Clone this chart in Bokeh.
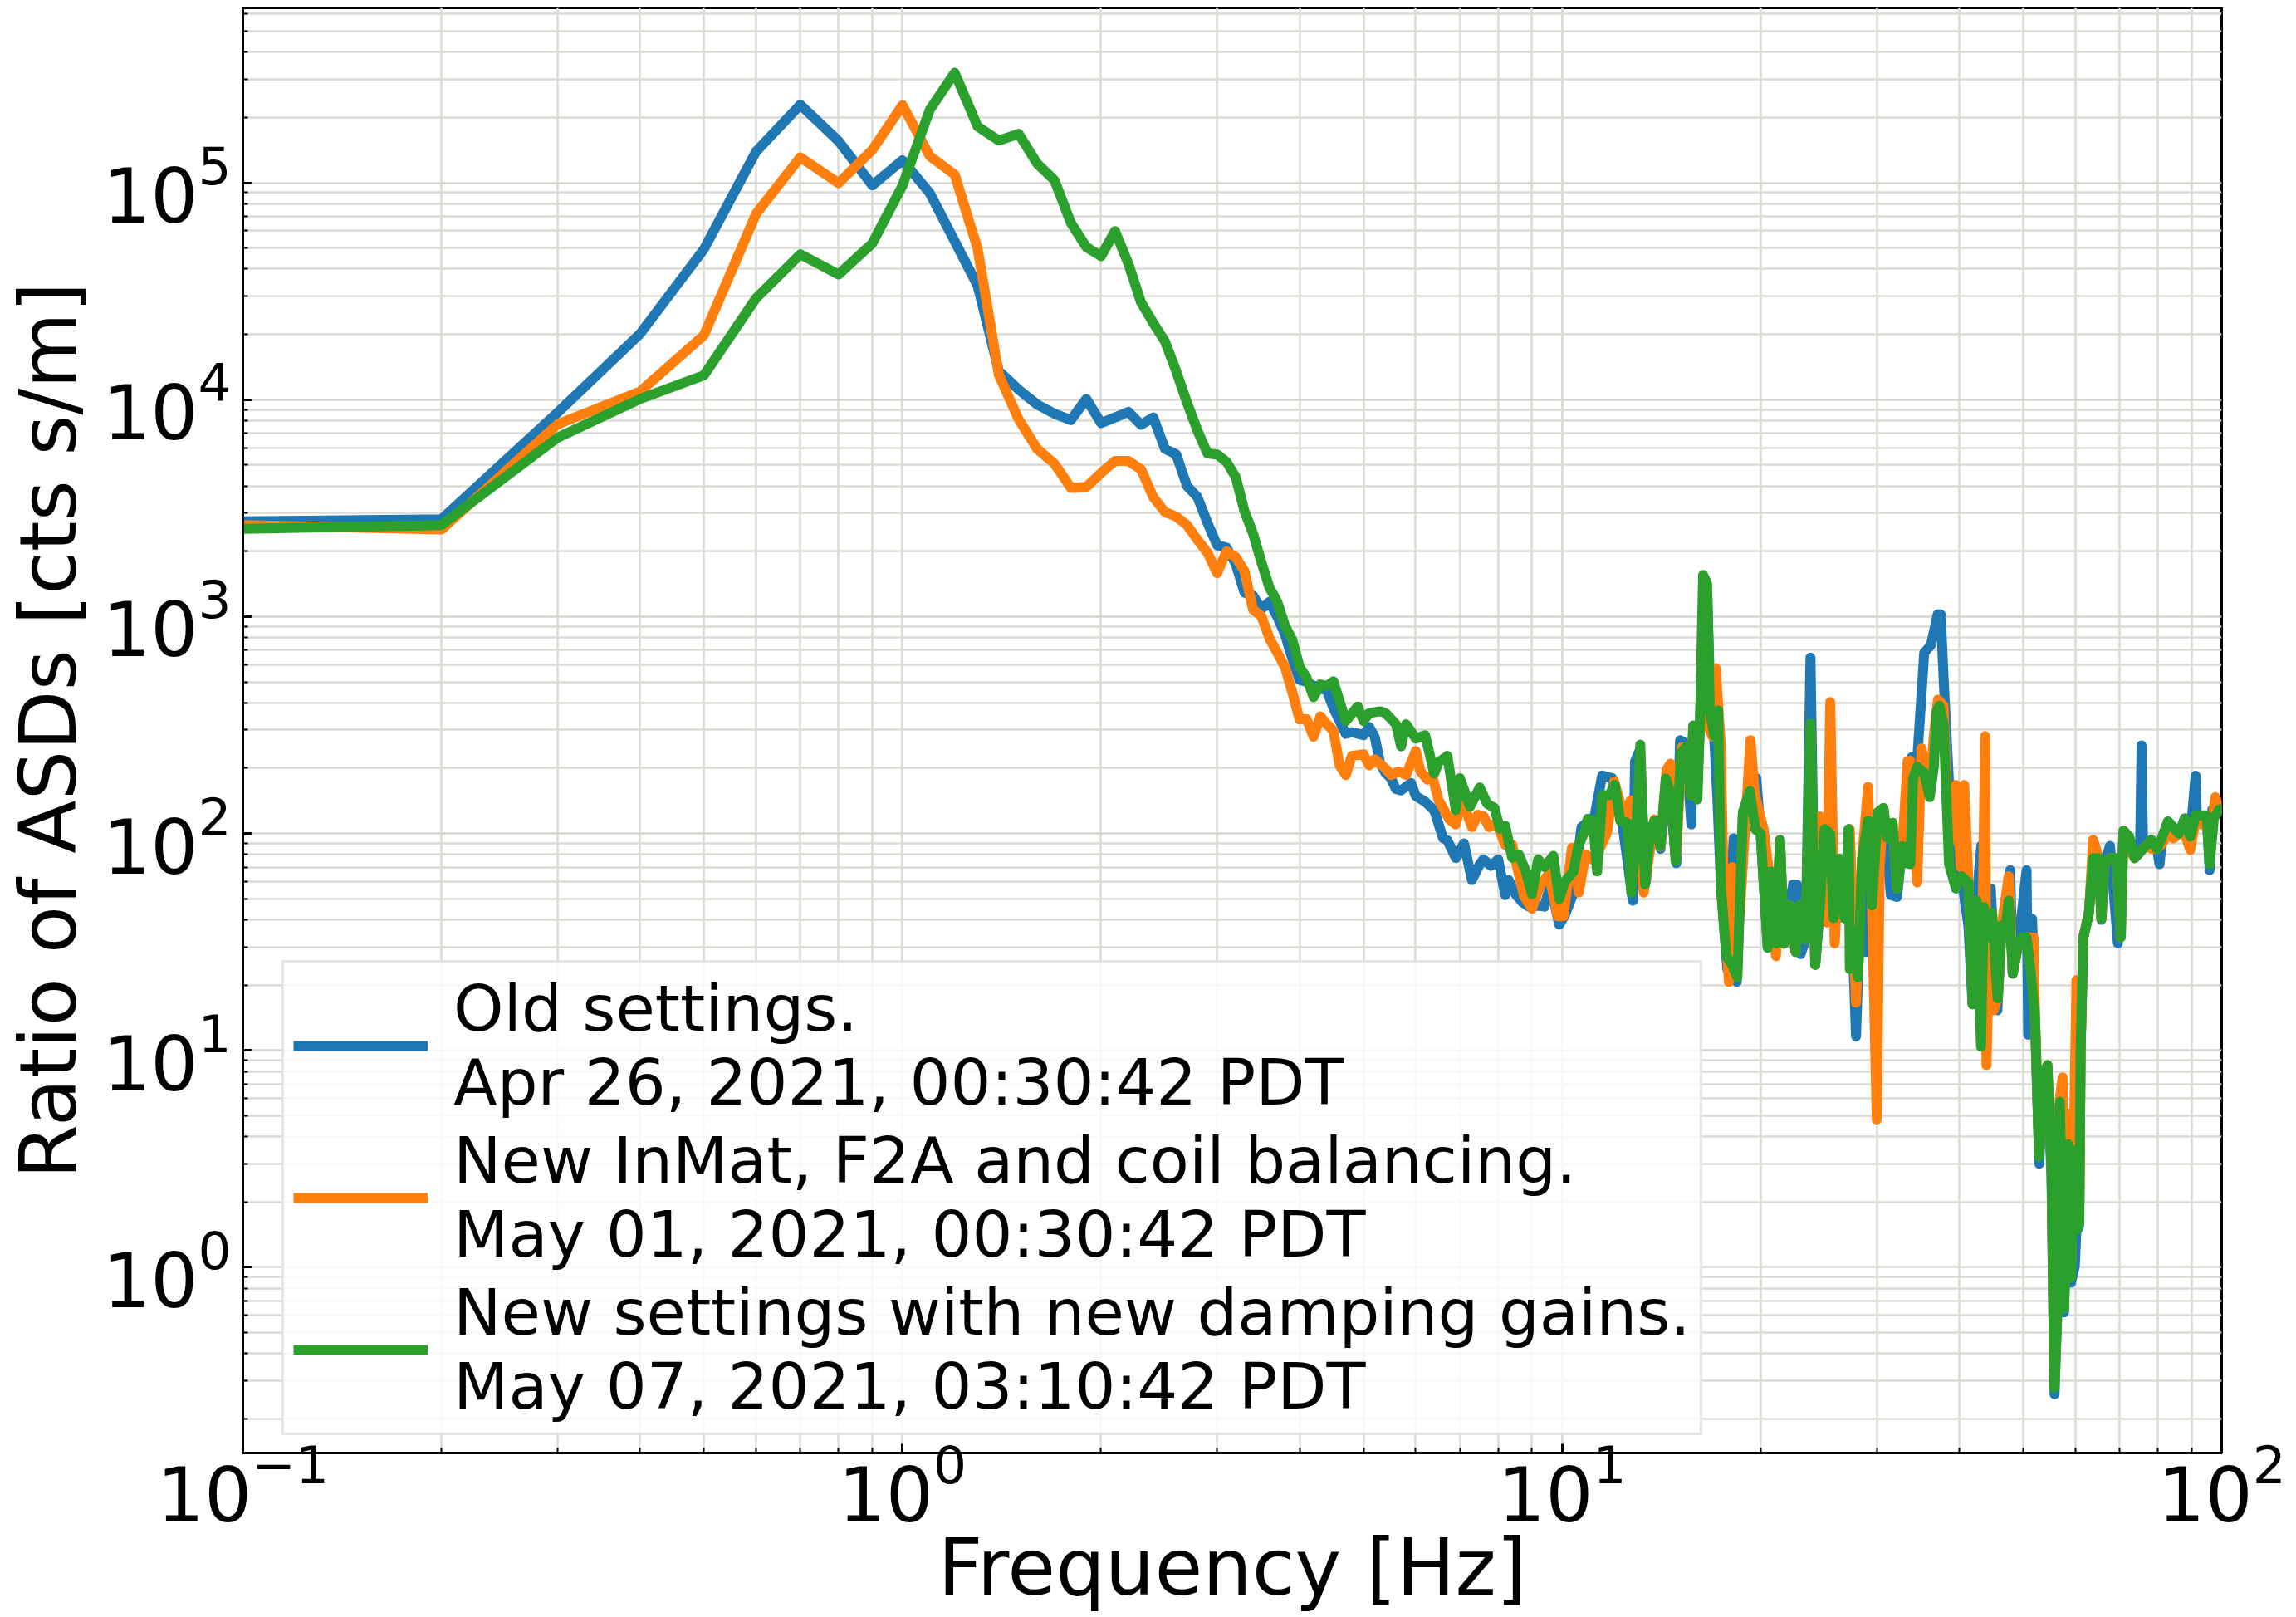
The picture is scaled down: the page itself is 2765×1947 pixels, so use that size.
from bokeh.plotting import figure
from bokeh.models import FixedTicker, Legend, LegendItem
from bokeh.embed import file_html
from bokeh.resources import INLINE

# ---------------- data ----------------
freq_low = [0.1, 0.2, 0.3, 0.4, 0.5, 0.6, 0.7, 0.8, 0.9, 1.0,
            1.1, 1.2, 1.3, 1.4, 1.5, 1.6, 1.7, 1.8, 1.9, 2.0,
            2.1, 2.2, 2.3, 2.4, 2.5, 2.6, 2.7, 2.8, 2.9, 3.0]

old_low = [2750, 2810, 8720, 20100, 49400, 139500, 229000, 155700, 97200, 127000,
           89600, 53700, 33500, 13530, 11120, 9500, 8610, 8050, 10070, 7800,
           8280, 8780, 7660, 8280, 5930, 5590, 4000, 3560, 2700, 2130]

inmat_low = [2640, 2520, 7700, 10900, 19800, 72000, 131000, 99600, 141700, 228000,
             132600, 109000, 49600, 13000, 8120, 5930, 5060, 3920, 3960, 4590,
             5220, 5220, 4770, 3550, 3030, 2890, 2640, 2260, 1970, 1585]

new_low = [2535, 2640, 6680, 10070, 12950, 29370, 46800, 37760, 52560, 97000,
           216900, 321600, 181600, 156500, 168000, 122600, 102700, 65300, 50550, 45850,
           59850, 42350, 28030, 22570, 18540, 13530, 9690, 7210, 5650, 5590]

old_high = [(3.1, 2080), (3.2, 1750), (3.3, 1290), (3.4, 1250), (3.5, 1080), (3.6, 1170), (3.7, 1000),
            (3.8, 830), (3.9, 640), (4.0, 510), (4.1, 500), (4.2, 480), (4.4, 455), (4.5, 380), (4.6, 330),
            (4.7, 288), (4.8, 293), (5.0, 284), (5.1, 309), (5.2, 279), (5.3, 210), (5.4, 190), (5.5, 180),
            (5.6, 160), (5.7, 158), (5.9, 171), (6.0, 149), (6.2, 140), (6.4, 128), (6.6, 95), (6.7, 93),
            (6.9, 77), (7.1, 90), (7.3, 61), (7.5, 72), (7.6, 76), (7.8, 71), (8.0, 76), (8.2, 52), (8.3, 61),
            (8.5, 52.5), (8.7, 48.3), (8.9, 46), (9.2, 46.4), (9.4, 46), (9.6, 58), (9.9, 38), (10.1, 42),
            (10.4, 53), (10.7, 107), (11.2, 120), (11.5, 185), (11.9, 180), (12.3, 120), (12.8, 49),
            (12.9, 215), (13.1, 240), (13.4, 60), (13.6, 100), (13.8, 110), (14.1, 85), (14.4, 175),
            (14.6, 140), (14.9, 73), (15.1, 269), (15.4, 260), (15.7, 110), (15.8, 300), (16.0, 145),
            (16.2, 360), (16.4, 1300), (16.6, 1250), (16.8, 360), (17.0, 280), (17.2, 143), (17.4, 60),
            (17.8, 23.7), (18.2, 95), (18.4, 20.7), (18.8, 125), (19.3, 157), (19.7, 180), (20.0, 100),
            (20.5, 30), (20.7, 67), (21.1, 31), (21.4, 93), (21.7, 31), (22.1, 46.6), (22.4, 58), (22.7, 58),
            (23.0, 27.8), (23.4, 32.5), (23.8, 647), (24.2, 24.8), (24.6, 46.6), (25.0, 104.7), (25.5, 100),
            (25.8, 40.7), (26.3, 76), (26.8, 40.7), (27.2, 104.7), (27.9, 11.6), (28.5, 76), (28.9, 28.4),
            (29.1, 114.5), (29.5, 46.6), (30.1, 125), (30.7, 131), (31.5, 52), (32.2, 51), (32.8, 87),
            (33.3, 73), (33.9, 225), (34.4, 180), (35.4, 680), (36.25, 740), (37.1, 1023), (37.5, 1023),
            (37.9, 502), (39.0, 93.5), (39.55, 55.8), (40.3, 63.5), (41.3, 37.8), (41.9, 16.3), (42.5, 49),
            (43.2, 87.7), (43.6, 45.9), (44.65, 55.8), (45.7, 15.3), (46.4, 37.8), (47.1, 37.8), (47.8, 67.7),
            (48.2, 22.6), (49.2, 31.2), (50.6, 67.7), (50.9, 11.8), (51.6, 40.4), (52.1, 14.35), (52.9, 3.0),
            (53.6, 7.2), (54.4, 8.3), (55.2, 2.6), (55.8, 0.26), (56.3, 0.58), (56.8, 5.6), (57.7, 0.62),
            (58.5, 3.5), (59.1, 0.85), (59.9, 1.02), (60.2, 1.45), (60.8, 1.55), (61.1, 10), (61.7, 33),
            (62.9, 43), (63.8, 77), (65.1, 77), (65.7, 40), (66.4, 72), (67.7, 87.7), (69.6, 31.2), (71.0, 103),
            (72.4, 96.6), (73.8, 77), (75.2, 82), (75.6, 255), (76.0, 85), (78.2, 93.5), (79.8, 84.9),
            (80.5, 72.2), (81.3, 96.6), (82.9, 113.6), (84.5, 106.5), (86.2, 99.8), (87.9, 117.3), (89.6, 96.6),
            (91.3, 184.5), (91.7, 121), (93.1, 121), (94.9, 121), (95.9, 67.7), (96.8, 129), (99.2, 129),
            (100.0, 120)]

inmat_high = [(3.1, 2000), (3.2, 1880), (3.3, 1620), (3.4, 1076), (3.5, 1005), (3.6, 794), (3.7, 682),
              (3.8, 586), (3.9, 447), (4.0, 336), (4.1, 336), (4.2, 279), (4.3, 347), (4.4, 319), (4.5, 298),
              (4.6, 206), (4.7, 186), (4.8, 228), (5.0, 232), (5.1, 206), (5.2, 220), (5.4, 199), (5.5, 186),
              (5.65, 193), (5.8, 186), (6.0, 240), (6.1, 193), (6.25, 177), (6.35, 186), (6.5, 142),
              (6.75, 116), (6.9, 110), (7.05, 144.5), (7.3, 107), (7.45, 122), (7.6, 120), (7.75, 107),
              (7.95, 112), (8.2, 88.6), (8.4, 88.6), (8.75, 51.6), (9.0, 45), (9.25, 57), (9.55, 65.4),
              (9.85, 41.5), (10.05, 41.5), (10.35, 85.7), (10.6, 53.4), (10.85, 80), (11.2, 74.8), (11.7, 101),
              (12.0, 174), (12.4, 120), (12.7, 142), (13.0, 94.8), (13.3, 53.4), (13.8, 116), (14.1, 87),
              (14.4, 196.5), (14.6, 210), (14.9, 79.9), (15.2, 250), (15.4, 250), (15.7, 150), (15.8, 310),
              (16.0, 150), (16.2, 340), (16.5, 337), (16.9, 280), (17.1, 578), (17.4, 257), (17.6, 46.6),
              (17.9, 20.7), (18.1, 69.8), (18.6, 42.6), (19.3, 269), (19.6, 150), (20.2, 104.7), (20.6, 66),
              (21.1, 27.2), (21.4, 93), (21.7, 31), (22.1, 46.6), (22.6, 28.4), (22.9, 46.6), (23.4, 32.5),
              (23.8, 300), (24.2, 24.8), (24.6, 120), (25.0, 104.7), (25.2, 38.9), (25.5, 403.5), (25.9, 31.1),
              (26.3, 76.4), (26.8, 40.7), (27.3, 104.7), (27.9, 16.6), (28.5, 76.4), (29.1, 164), (29.5, 46.6),
              (30.0, 4.8), (30.3, 69.8), (30.7, 131), (31.1, 95.7), (31.7, 112), (32.2, 55.8), (32.8, 87.4),
              (33.4, 215), (33.7, 216.8), (34.55, 59.5), (35.06, 246.8), (35.6, 200), (36.1, 150), (36.6, 280),
              (37.14, 414), (37.87, 388), (38.6, 90), (39.55, 167.4), (40.2, 70), (40.71, 167.4), (41.31, 59.5),
              (41.92, 17), (42.53, 49), (43.16, 12), (43.79, 281), (44.0, 8.55), (44.5, 40), (45.08, 15.3),
              (45.74, 17.4), (46.41, 37.8), (47.54, 63.5), (48.23, 22.6), (49.17, 31.2), (50.62, 33.2),
              (51.86, 33.2), (52.11, 14.35), (52.87, 3.4), (53.64, 7.5), (54.43, 8.55), (55.22, 2.9),
              (55.76, 0.29), (56.3, 0.62), (56.84, 6.0), (57.39, 7.5), (57.67, 0.66), (58.52, 5.1), (59.09, 0.92),
              (59.66, 3.5), (60.24, 21.1), (60.83, 1.6), (61.12, 10.4), (61.71, 33.2), (62.92, 43.1),
              (63.84, 93.5), (65.09, 77), (65.72, 40.4), (66.36, 72), (67.66, 77), (69.31, 77), (70.32, 33.2),
              (71.0, 103), (72.39, 85), (73.8, 77), (75.25, 82), (76.72, 87.7), (78.22, 85), (79.75, 84.9),
              (81.3, 90), (82.9, 100), (84.5, 95), (86.2, 99.8), (87.9, 100), (89.6, 84), (91.3, 115),
              (93.1, 110), (94.9, 121), (95.9, 90), (97.8, 147), (99.2, 129), (100.0, 135)]

new_high = [(3.1, 5160), (3.2, 4400), (3.3, 3060), (3.4, 2416), (3.5, 1784), (3.6, 1362), (3.7, 1170),
            (3.8, 909), (3.9, 780), (4.0, 586), (4.1, 521), (4.2, 425), (4.3, 487), (4.4, 479), (4.5, 503),
            (4.7, 330), (4.9, 385), (5.0, 330), (5.1, 359), (5.3, 366), (5.4, 359), (5.6, 319), (5.7, 252),
            (5.8, 319), (6.0, 274), (6.2, 284), (6.4, 189), (6.5, 213), (6.7, 228), (6.9, 128), (7.0, 180),
            (7.25, 133), (7.5, 163), (7.7, 137), (7.9, 131), (8.05, 105), (8.2, 108.5), (8.4, 77.4), (8.6, 80),
            (8.8, 67.7), (9.0, 52.5), (9.2, 76), (9.4, 70), (9.7, 78.8), (9.9, 49.9), (10.1, 60.1), (10.4, 66.5),
            (10.58, 87.4), (10.79, 100), (10.94, 117), (11.14, 114.5), (11.3, 66.8), (11.51, 150), (11.79, 150),
            (12.02, 168), (12.25, 114.5), (12.55, 112), (12.73, 53.3), (12.92, 87.4), (13.14, 257), (13.36, 58.3),
            (13.62, 104.7), (13.82, 114.5), (14.09, 87.4), (14.36, 179.6), (14.64, 150), (14.86, 74.7),
            (15.14, 235), (15.44, 251.6), (15.66, 150), (15.81, 315), (16.04, 143.4), (16.2, 369), (16.36, 1555),
            (16.59, 1421), (16.75, 369), (17.0, 281.5), (17.24, 369), (17.41, 55.8), (17.75, 27.2), (18.1, 24.8),
            (18.44, 21.7), (18.8, 125.3), (19.26, 157), (19.63, 104.7), (20.0, 100), (20.5, 29.7), (20.7, 66.8),
            (21.1, 31.1), (21.4, 93.5), (21.7, 31.1), (22.1, 46.6), (22.6, 28.4), (22.9, 46.6), (23.4, 32.5),
            (23.8, 322), (24.2, 24.8), (24.6, 46.6), (25.0, 104.7), (25.5, 100), (25.8, 40.7), (26.3, 76.4),
            (26.8, 40.7), (27.2, 104.7), (27.3, 23.7), (27.7, 35.6), (28.1, 21.7), (28.5, 76.4), (29.1, 114.5),
            (29.5, 46.6), (30.1, 125.3), (30.7, 131), (31.1, 95.7), (31.7, 112), (32.2, 55.8), (32.8, 87.4),
            (33.3, 73), (33.72, 72.2), (34.05, 178.6), (34.55, 203), (35.39, 190.5), (36.08, 147), (36.61, 203),
            (36.96, 364), (37.32, 388), (37.87, 320), (38.61, 72.2), (39.55, 55.8), (40.32, 63.5), (41.31, 59.5),
            (41.92, 16.3), (42.53, 49), (43.16, 10.4), (43.58, 45.9), (44.22, 33.2), (44.86, 43.1), (45.74, 17.4),
            (46.41, 37.8), (47.08, 37.8), (47.54, 49), (48.23, 22.6), (49.17, 31.2), (49.89, 33.2), (50.62, 33.2),
            (51.36, 22.6), (52.11, 14.35), (52.87, 3.24), (53.64, 7.5), (54.43, 8.55), (55.22, 2.85),
            (55.76, 0.278), (56.3, 0.604), (56.84, 5.8), (57.67, 0.644), (58.52, 3.69), (59.09, 0.89),
            (59.66, 3.46), (60.24, 1.49), (60.83, 1.59), (61.12, 10.4), (61.71, 33.2), (62.92, 43.1), (63.84, 77),
            (65.09, 77), (65.72, 40.4), (66.36, 72.2), (67.66, 77), (69.31, 77), (70.32, 33.2), (71.0, 103),
            (72.39, 96.6), (73.8, 77), (75.25, 82.2), (76.72, 87.7), (78.22, 93.5), (79.75, 84.9), (81.3, 96.6),
            (82.9, 113.6), (84.5, 106.5), (86.2, 99.8), (87.9, 117.3), (89.6, 96.6), (91.3, 121.2), (93.1, 121.2),
            (94.9, 121.2), (95.9, 72.2), (97.3, 117.3), (99.2, 129.3), (100.0, 125)]

series_labels = [
    "Old settings.\nApr 26, 2021, 00:30:42 PDT",
    "New InMat, F2A and coil balancing.\nMay 01, 2021, 00:30:42 PDT",
    "New settings with new damping gains.\nMay 07, 2021, 03:10:42 PDT",
]
series_colors = ["#1f77b4", "#ff7f0e", "#2ca02c"]

x_major = [0.1, 1, 10, 100]
x_minor = [m * d for d in (0.1, 1, 10) for m in range(2, 10)]
y_major = [1, 10, 100, 1000, 10000, 100000]
y_minor = [m * d for d in (0.1, 1, 10, 100, 1000, 10000, 100000) for m in range(2, 10)]

FONT = "DejaVu Sans"
LW = 12

p = figure(width=2765, height=1947, x_axis_type="log", y_axis_type="log",
           x_range=(0.1, 100), y_range=(10 ** -0.856, 10 ** 5.806),
           output_backend="svg", toolbar_location=None,
           min_border_left=291, min_border_right=90, min_border_top=9, min_border_bottom=198)

p.background_fill_color = "white"
p.border_fill_color = "white"
p.outline_line_color = "black"
p.outline_line_width = 3

series = [(old_low, old_high), (inmat_low, inmat_high), (new_low, new_high)]
renderers = []
for (low, high), col in zip(series, series_colors):
    xs = freq_low + [f for f, _ in high]
    ys = low + [v for _, v in high]
    r = p.line(xs, ys, line_color=col, line_width=LW, line_join="round")
    renderers.append(r)

p.xaxis.ticker = FixedTicker(ticks=x_major, minor_ticks=x_minor)
p.yaxis.ticker = FixedTicker(ticks=y_major, minor_ticks=y_minor)

for ax in (p.xaxis, p.yaxis):
    ax.axis_line_width = 3
    ax.axis_line_color = "black"
    ax.major_tick_in = 11
    ax.major_tick_out = 0
    ax.minor_tick_in = 6
    ax.minor_tick_out = 0
    ax.major_tick_line_width = 3
    ax.minor_tick_line_width = 2
    ax.major_label_text_font = FONT
    ax.major_label_text_font_size = "90px"
    ax.major_label_text_color = "black"
    ax.axis_label_text_font = FONT
    ax.axis_label_text_font_size = "94px"
    ax.axis_label_text_font_style = "normal"
    ax.axis_label_text_color = "black"

p.xaxis.axis_label = "Frequency [Hz]"
p.yaxis.axis_label = "Ratio of ASDs [cts s/m]"
p.xaxis.major_label_standoff = -14
p.yaxis.major_label_standoff = 14
p.xaxis.axis_label_standoff = -2
p.yaxis.axis_label_standoff = 8

p.grid.grid_line_color = "#d6d6cf"
p.grid.grid_line_width = 2.5
p.grid.minor_grid_line_color = "#dcdcd5"
p.grid.minor_grid_line_width = 2.5

legend = Legend(items=[LegendItem(label=lab, renderers=[r]) for lab, r in zip(series_labels, renderers)],
                location=(47, 21))
legend.label_text_font = FONT
legend.label_text_font_size = "77px"
legend.label_text_color = "black"
legend.label_text_line_height = 1.13
legend.glyph_width = 162
legend.glyph_height = 40
legend.label_standoff = 31
legend.padding = 11
legend.spacing = 5
legend.margin = 0
legend.border_line_color = "#cccccc"
legend.border_line_width = 3
legend.background_fill_color = "white"
legend.background_fill_alpha = 0.8
p.add_layout(legend)

open("out.html", "w").write(file_html(p, INLINE))
